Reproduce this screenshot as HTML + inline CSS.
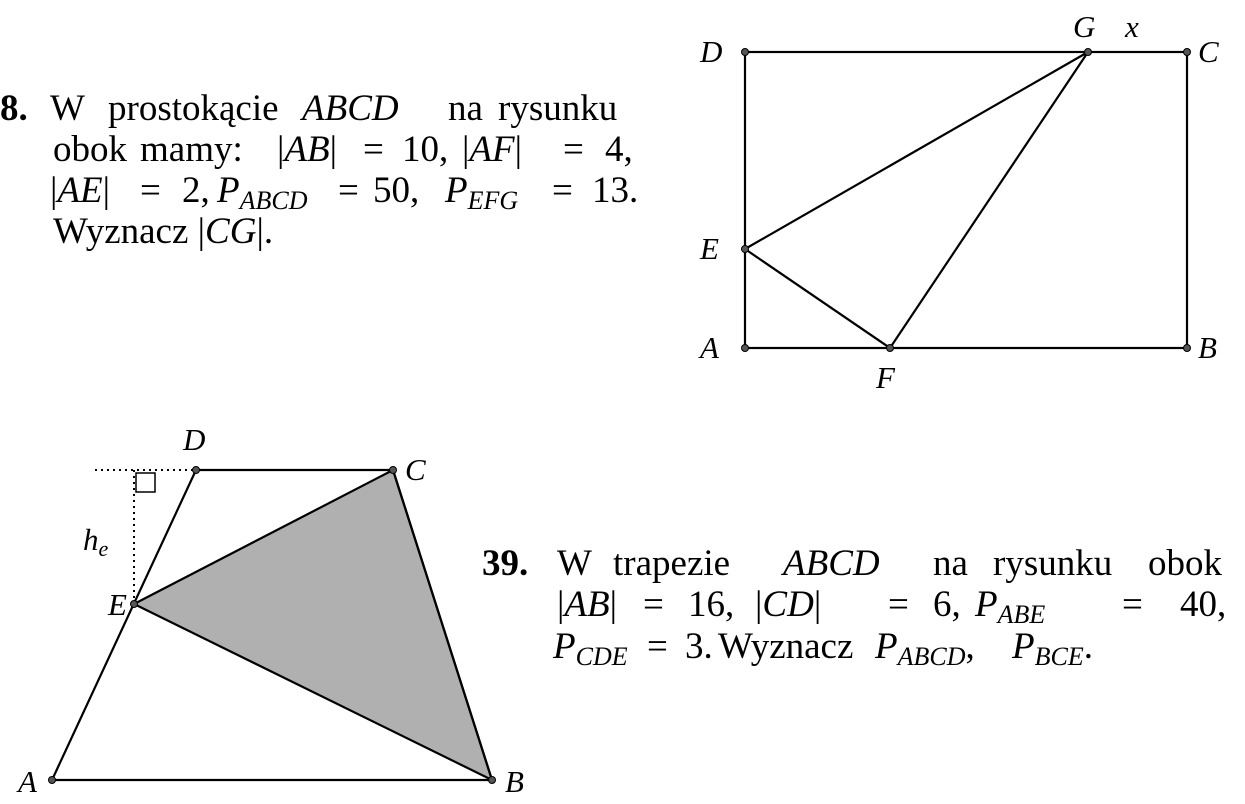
<!DOCTYPE html>
<html><head><meta charset="utf-8"><style>
html,body{margin:0;padding:0;background:#fff;}
svg{display:block;}
text{font-family:"Liberation Serif",serif;font-size:37px;fill:#000;}
.i{font-style:italic;}
.s{font-size:26px;font-style:italic;}
.lab{font-size:31px;}
</style></head><body>
<svg width="1245" height="804" viewBox="0 0 1245 804">
<g>
<text x="0" y="120" font-weight="bold">8.</text>
<text x="50" y="120">W</text>
<text x="108" y="120">prostokącie</text>
<text x="302" y="120" class="i">ABCD</text>
<text x="448" y="120">na</text>
<text x="498" y="120">rysunku</text>

<text x="53" y="161">obok</text>
<text x="140" y="161">mamy:</text>
<text x="277" y="161">|<tspan class="i">AB</tspan>|</text>
<text x="363" y="161">=</text>
<text x="402" y="161">10,</text>
<text x="462" y="161">|<tspan class="i">AF</tspan>|</text>
<text x="563" y="161">=</text>
<text x="605" y="161">4,</text>

<text x="50" y="202">|<tspan class="i">AE</tspan>|</text>
<text x="140" y="202">=</text>
<text x="182" y="202">2,</text>
<text x="217" y="202"><tspan class="i">P</tspan><tspan class="s" dy="7">ABCD</tspan></text>
<text x="338" y="202">=</text>
<text x="373" y="202">50,</text>
<text x="445" y="202"><tspan class="i">P</tspan><tspan class="s" dy="7">EFG</tspan></text>
<text x="552" y="202">=</text>
<text x="592" y="202">13.</text>

<text x="53" y="243">Wyznacz |<tspan class="i">CG</tspan>|.</text>
</g>
<g stroke="#000" stroke-width="2.2" fill="none">
<rect x="745" y="52" width="442" height="296"/>
<polygon points="745,249 1088,52 890,348"/>
</g>
<g fill="#555" stroke="#000" stroke-width="1">
<circle cx="745" cy="52" r="3.5"/><circle cx="1187" cy="52" r="3.5"/><circle cx="745" cy="348" r="3.5"/><circle cx="1187" cy="348" r="3.5"/>
<circle cx="1088" cy="52" r="3.5"/><circle cx="745" cy="249" r="3.5"/><circle cx="890" cy="348" r="3.5"/>
</g>
<g>
<text class="i lab" x="700" y="62">D</text>
<text class="i lab" x="1198" y="62">C</text>
<text class="i lab" x="700" y="358">A</text>
<text class="i lab" x="1198" y="358">B</text>
<text class="i lab" x="700" y="259">E</text>
<text class="i lab" x="876" y="388">F</text>
<text class="i lab" x="1073" y="37">G</text>
<text class="i lab" x="1125" y="37">x</text>
</g>
<g>
<polygon points="134,604 393,470 492,780" fill="#b0b0b0" stroke="#000" stroke-width="2.2"/>
<polygon points="52,780 492,780 393,470 196,470" fill="none" stroke="#000" stroke-width="2.2"/>
<line x1="95" y1="470" x2="196" y2="470" stroke="#000" stroke-width="2" stroke-dasharray="2,4"/>
<line x1="134" y1="470" x2="134" y2="604" stroke="#000" stroke-width="2" stroke-dasharray="2,4"/>
<rect x="136" y="473" width="19" height="19" fill="none" stroke="#000" stroke-width="1.5"/>
<g fill="#555" stroke="#000" stroke-width="1">
<circle cx="52" cy="780" r="3.5"/><circle cx="492" cy="780" r="3.5"/><circle cx="393" cy="470" r="3.5"/><circle cx="196" cy="470" r="3.5"/><circle cx="134" cy="604" r="3.5"/>
</g>
</g>
<g>
<text class="i lab" x="183" y="450">D</text>
<text class="i lab" x="405" y="480">C</text>
<text class="i lab" x="108" y="615">E</text>
<text class="i lab" x="18" y="792">A</text>
<text class="i lab" x="505" y="792">B</text>
<text class="i lab" x="83" y="550">h<tspan class="s" dy="6" style="font-size:22px">e</tspan></text>
</g>
<g>
<text x="482" y="575" font-weight="bold">39.</text>
<text x="557" y="575">W</text>
<text x="613" y="575">trapezie</text>
<text x="783" y="575" class="i">ABCD</text>
<text x="933" y="575">na</text>
<text x="993" y="575">rysunku</text>
<text x="1148" y="575">obok</text>

<text x="557" y="616">|<tspan class="i">AB</tspan>|</text>
<text x="643" y="616">=</text>
<text x="688" y="616">16,</text>
<text x="755" y="616">|<tspan class="i">CD</tspan>|</text>
<text x="888" y="616">=</text>
<text x="933" y="616">6,</text>
<text x="975" y="616"><tspan class="i">P</tspan><tspan class="s" dy="7">ABE</tspan></text>
<text x="1122" y="616">=</text>
<text x="1180" y="616">40,</text>

<text x="553" y="658"><tspan class="i">P</tspan><tspan class="s" dy="7">CDE</tspan></text>
<text x="647" y="658">=</text>
<text x="685" y="658">3.</text>
<text x="718" y="658">Wyznacz</text>
<text x="875" y="658"><tspan class="i">P</tspan><tspan class="s" dy="7">ABCD</tspan><tspan dy="-7">,</tspan></text>
<text x="1012" y="658"><tspan class="i">P</tspan><tspan class="s" dy="7">BCE</tspan><tspan dy="-7">.</tspan></text>
</g>
</svg>
</body></html>
